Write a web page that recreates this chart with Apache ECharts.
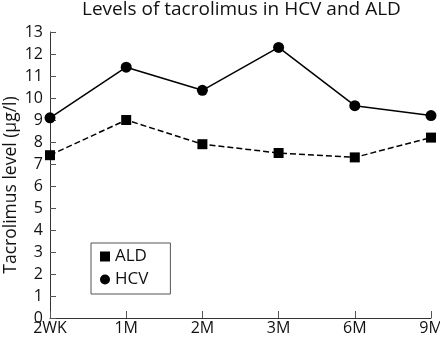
<!DOCTYPE html>
<html><head><meta charset="utf-8">
<script src="https://cdn.jsdelivr.net/npm/echarts@6/dist/echarts.min.js"></script>
<style>html,body{margin:0;padding:0;background:#fff}#c{width:440px;height:340px}</style>
</head><body><div id="c"></div>
<script>
var categories = ['2WK','1M','2M','3M','6M','9M'];
var hcv = [9.1, 11.4, 10.35, 12.3, 9.65, 9.2];
var ald = [7.4, 9.0, 7.9, 7.5, 7.3, 8.2];
var yTicks = [0,1,2,3,4,5,6,7,8,9,10,11,12,13];
var F = 'Open Sans';
var chart = echarts.init(document.getElementById('c'));
chart.setOption({
  animation: false,
  title: {text: 'Levels of tacrolimus in HCV and ALD', left: 82, top: 0, padding: [0, 0, 0, 0],
    textStyle: {fontFamily: F, fontWeight: 'normal', fontSize: 19, color: '#111'}},
  grid: {left: 50, right: 9, top: 32, bottom: 22, outerBoundsMode: 'none', containLabel: false},
  legend: {
    orient: 'vertical', left: 91, top: 243,
    data: [{name:'ALD', icon:'rect'}, {name:'HCV', icon:'circle'}],
    itemWidth: 10, itemHeight: 10, itemGap: 6,
    borderColor: '#555', borderWidth: 1, padding: [5, 22, 6, 9],
    textStyle: {fontFamily: F, fontSize: 17, color: '#111'}
  },
  xAxis: {
    type: 'category', data: categories, boundaryGap: false,
    axisLine: {lineStyle: {color: '#333', width: 1}},
    axisTick: {inside: true, length: 7, lineStyle: {color: '#555'}},
    axisLabel: {fontFamily: F, fontSize: 16, color: '#111', margin: 2}
  },
  yAxis: {
    type: 'value', min: 0, max: 13, interval: 1,
    name: 'Tacrolimus level (µg/l)', nameLocation: 'middle', nameGap: 30, nameMoveOverlap: false,
    nameTextStyle: {fontFamily: F, fontSize: 17.5, color: '#111', padding: [0, 20, 0, 0]},
    axisLine: {show: true, lineStyle: {color: '#333', width: 1}},
    axisTick: {show: true, inside: true, length: 6, lineStyle: {color: '#555'}},
    axisLabel: {fontFamily: F, fontSize: 16, color: '#111', margin: 7,
      formatter: function(v){ return yTicks.indexOf(v) >= 0 ? String(v) : ''; }},
    splitLine: {show: false}
  },
  series: [
    {name: 'ALD', type: 'line', data: ald, symbol: 'rect', symbolSize: 10,
      itemStyle: {color: '#000'}, lineStyle: {color: '#000', width: 1.5, type: [6, 3]}},
    {name: 'HCV', type: 'line', data: hcv, symbol: 'circle', symbolSize: 11,
      itemStyle: {color: '#000'}, lineStyle: {color: '#000', width: 1.5}}
  ]
});
</script></body></html>
